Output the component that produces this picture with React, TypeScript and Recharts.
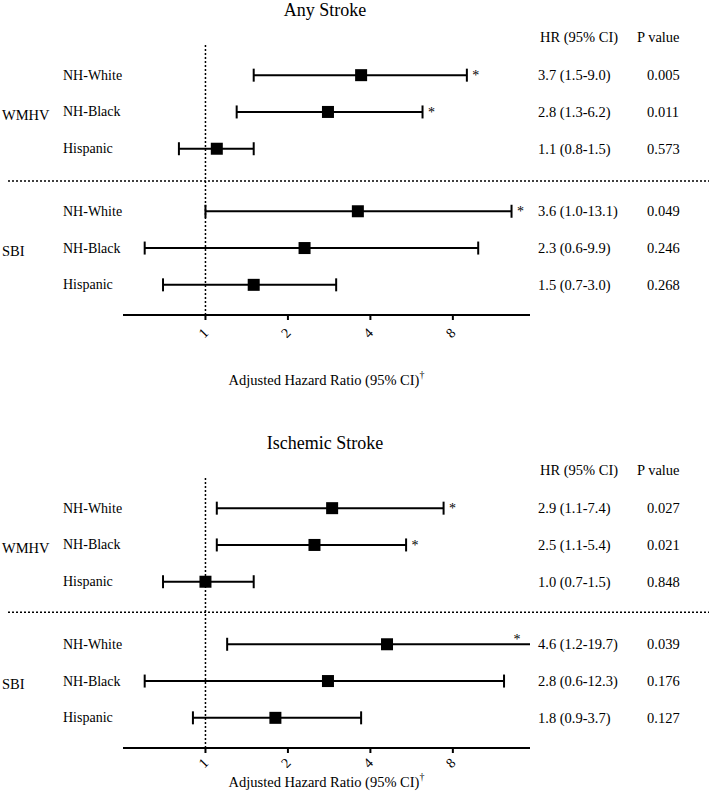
import React from 'react';
import { ScatterChart, Scatter, XAxis, YAxis, ReferenceLine } from 'recharts';

const races = ['NH-White', 'NH-Black', 'Hispanic'];
const measures = ['WMHV', 'SBI'];
const xTicks = [1, 2, 4, 8];
const xLabel = 'Adjusted Hazard Ratio (95% CI)';
const hrHeader = 'HR (95% CI)';
const pHeader = 'P value';

const anyHR = [3.7, 2.8, 1.1, 3.6, 2.3, 1.5];
const anyLow = [1.5, 1.3, 0.8, 1.0, 0.6, 0.7];
const anyHigh = [9.0, 6.2, 1.5, 13.1, 9.9, 3.0];
const anyP = ['0.005', '0.011', '0.573', '0.049', '0.246', '0.268'];
const anySig = [true, true, false, true, false, false];

const ischHR = [2.9, 2.5, 1.0, 4.6, 2.8, 1.8];
const ischLow = [1.1, 1.1, 0.7, 1.2, 0.6, 0.9];
const ischHigh = [7.4, 5.4, 1.5, 19.7, 12.3, 3.7];
const ischP = ['0.027', '0.021', '0.848', '0.039', '0.176', '0.127'];
const ischSig = [true, true, false, true, false, false];

const X_MIN = 0.5;
const X_MAX = 15.3;
const GROUP_GAP = 0.7;
const Y_DOMAIN = [-0.82, 6.52];
const FONT = "'Liberation Serif', 'Times New Roman', Times, serif";

function buildRows(hr, low, high, p, sig) {
  return hr.map((v, i) => ({
    y: i + (i >= races.length ? GROUP_GAP : 0),
    race: races[i % races.length],
    measure: measures[Math.floor(i / races.length)],
    x: v,
    low: low[i],
    high: high[i],
    hrText: `${v.toFixed(1)} (${low[i].toFixed(1)}-${high[i].toFixed(1)})`,
    p: p[i],
    sig: sig[i],
  }));
}

function buildStars(rows) {
  return rows
    .filter((r) => r.sig)
    .map((r) => ({ y: r.y, x: Math.min(r.high, X_MAX), clipped: r.high > X_MAX }));
}

const SquareShape = (props) => {
  const { cx, cy } = props;
  if (cx == null || cy == null) return <g />;
  return <rect x={cx - 6} y={cy - 6} width={12} height={12} fill="#000" />;
};

const CapShape = (props) => {
  const { cx, cy } = props;
  if (cx == null || cy == null) return <g />;
  return <line x1={cx} x2={cx} y1={cy - 6.5} y2={cy + 6.5} stroke="#000" strokeWidth={2} />;
};

const StarShape = (props) => {
  const { cx, cy, payload } = props;
  if (cx == null || cy == null) return <g />;
  const clipped = payload && payload.clipped;
  return (
    <text
      x={clipped ? cx - 13 : cx + 9}
      y={clipped ? cy : cy + 5}
      textAnchor="middle"
      fontFamily={FONT}
      fontSize={14}
      fill="#000"
    >
      *
    </text>
  );
};

function Panel({ title, rows, top, marginTop, height, tickOff, labelOff, titleY, sepY }) {
  const stars = buildStars(rows);
  const xAxisHeight = height - marginTop - 270;

  const renderRowTick = (props) => {
    const { y, index } = props;
    const r = rows[index];
    if (!r) return <g />;
    return (
      <g fontFamily={FONT} fill="#000">
        {index === 0 && (
          <>
            <text x={540} y={y - 38} fontSize={14.5} dominantBaseline="central">{hrHeader}</text>
            <text x={637} y={y - 38} fontSize={14.5} dominantBaseline="central">{pHeader}</text>
          </>
        )}
        {index % races.length === 1 && (
          <text x={2} y={y + 3} fontSize={14.5} dominantBaseline="central">{r.measure}</text>
        )}
        <text x={63} y={y} fontSize={14} dominantBaseline="central">{r.race}</text>
        <text x={538} y={y} fontSize={14.5} dominantBaseline="central">{r.hrText}</text>
        <text x={647} y={y} fontSize={14.5} dominantBaseline="central">{r.p}</text>
      </g>
    );
  };

  const renderXTick = (props) => {
    const { x, y, payload } = props;
    const cx = x - 2;
    const cy = y + tickOff;
    return (
      <text
        x={cx}
        y={cy}
        transform={`rotate(-45 ${cx} ${cy})`}
        textAnchor="middle"
        dominantBaseline="central"
        fontFamily={FONT}
        fontSize={14}
        fill="#000"
      >
        {payload.value}
      </text>
    );
  };

  const renderXLabel = (props) => {
    const vb = props.viewBox || { x: 123, y: 0, width: 407 };
    return (
      <text
        x={vb.x + vb.width / 2}
        y={vb.y + labelOff}
        textAnchor="middle"
        dominantBaseline="central"
        fontFamily={FONT}
        fontSize={14.5}
        fill="#000"
      >
        {xLabel}
        <tspan dy={-6} fontSize={10}>†</tspan>
      </text>
    );
  };

  return (
    <div style={{ position: 'absolute', left: 0, top, width: 709, height }}>
      <div
        style={{
          position: 'absolute',
          left: 0,
          width: 650,
          top: titleY - top - 11,
          textAlign: 'center',
          fontFamily: FONT,
          fontSize: 18,
          lineHeight: '22px',
          color: '#000',
        }}
      >
        {title}
      </div>
      <ScatterChart
        width={709}
        height={height}
        margin={{ top: marginTop, right: 179, bottom: 0, left: 0 }}
      >
        <XAxis
          type="number"
          dataKey="x"
          scale="log"
          domain={[X_MIN, X_MAX]}
          allowDataOverflow
          ticks={xTicks}
          height={xAxisHeight}
          axisLine={{ stroke: '#000', strokeWidth: 2 }}
          tickLine={{ stroke: '#000', strokeWidth: 2 }}
          tickSize={5}
          tickMargin={2}
          tick={renderXTick}
          label={{ content: renderXLabel }}
        />
        <YAxis
          type="number"
          dataKey="y"
          domain={Y_DOMAIN}
          reversed
          allowDataOverflow
          width={123}
          axisLine={false}
          tickLine={false}
          ticks={rows.map((r) => r.y)}
          tick={renderRowTick}
        />
        <ReferenceLine x={1} stroke="#000" strokeWidth={1.5} strokeDasharray="2 2" />
        <ReferenceLine
          y={sepY}
          stroke="#000"
          shape={(p) => (
            <line x1={8} x2={709} y1={p.y1} y2={p.y2} stroke="#000" strokeWidth={1.5} strokeDasharray="2 2" />
          )}
        />
        {rows.map((r, i) => (
          <Scatter
            key={`ci-${i}`}
            data={[
              { x: r.low, y: r.y },
              { x: r.high, y: r.y },
            ]}
            line={{ stroke: '#000', strokeWidth: 2 }}
            shape={CapShape}
            isAnimationActive={false}
          />
        ))}
        <Scatter data={rows} shape={SquareShape} isAnimationActive={false} />
        <Scatter data={stars} shape={StarShape} isAnimationActive={false} />
      </ScatterChart>
    </div>
  );
}

export default function App() {
  const anyRows = buildRows(anyHR, anyLow, anyHigh, anyP, anySig);
  const ischRows = buildRows(ischHR, ischLow, ischHigh, ischP, ischSig);
  return (
    <div style={{ position: 'absolute', left: 0, top: 0, width: 709, height: 792, background: '#fff' }}>
      <Panel
        title="Any Stroke"
        rows={anyRows}
        top={0}
        marginTop={45}
        height={392}
        tickOff={11}
        labelOff={65}
        titleY={10}
        sepY={2.88}
      />
      <Panel
        title="Ischemic Stroke"
        rows={ischRows}
        top={392}
        marginTop={86}
        height={400}
        tickOff={8}
        labelOff={34}
        titleY={443}
        sepY={2.83}
      />
    </div>
  );
}
